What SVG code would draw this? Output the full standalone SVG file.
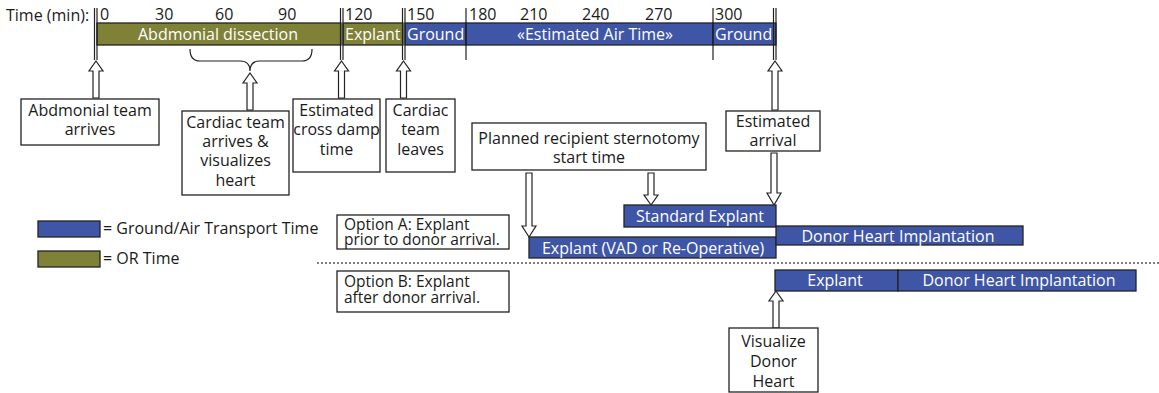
<svg xmlns="http://www.w3.org/2000/svg" width="1159" height="393" viewBox="0 0 1159 393">
<defs>
<style>
text{font-family:"Open Sans","Noto Sans","Liberation Sans",sans-serif;font-size:16px;fill:#1a1a1a}
.w{fill:#fff}
.m{text-anchor:middle}
.s{font-size:15.5px}
.blue{fill:#3F56A6;stroke:#222;stroke-width:1.3}
.olive{fill:#7F8137;stroke:#222;stroke-width:1.3}
.box{fill:#fff;stroke:#222;stroke-width:1.3}
.vl{stroke:#222;stroke-width:1.2;fill:none}
.arr{fill:#fff;stroke:#222;stroke-width:1.2;stroke-linejoin:miter}
.dot{stroke:#555;stroke-width:1.3;stroke-dasharray:2,2;fill:none}
</style>
</defs>
<rect width="1159" height="393" fill="#fff"/>
<g id="timeline">
<text x="6" y="21">Time (min):</text>
<text x="100" y="20">0</text>
<text x="155" y="20">30</text>
<text x="215" y="20">60</text>
<text x="278" y="20">90</text>
<text x="345" y="20">120</text>
<text x="407" y="20">150</text>
<text x="469" y="20">180</text>
<text x="520" y="20">210</text>
<text x="582" y="20">240</text>
<text x="645" y="20">270</text>
<text x="715" y="20">300</text>
<rect class="olive" x="97" y="23" width="244" height="22"/>
<text class="w m" x="218" y="40">Abdmonial dissection</text>
<rect class="olive" x="343" y="23" width="60" height="22"/>
<text class="w" x="345" y="40">Explant</text>
<rect class="blue" x="405" y="23" width="61" height="22"/>
<text class="w" x="407" y="40">Ground</text>
<rect class="blue" x="466" y="23" width="247" height="22"/>
<text class="w m" x="595" y="40">«Estimated Air Time»</text>
<rect class="blue" x="713" y="23" width="63" height="22"/>
<text class="w" x="715" y="40">Ground</text>
<path class="vl" d="M94.5,8V60M97,8V60M340.5,8V60M343,8V60M402.5,8V60M405,8V60M466,8V60M713,8V60M773.5,8V60M776,8V60"/>
</g>
<g id="brace">
<path class="vl" d="M190,49Q190,61 200,61L240,61Q250,61 250,71Q250,61 260,61L302,61Q312,61 312,49"/>
</g>
<g id="legend">
<rect class="blue" x="38" y="221" width="62" height="16"/>
<text x="103" y="234">= Ground/Air Transport Time</text>
<rect class="olive" x="38" y="251" width="62" height="16"/>
<text x="103" y="264">= OR Time</text>
</g>
<g id="connectors">
<path class="arr" d="M96,61L103,71L99,71L99,98L93,98L93,71L89,71Z"/>
<path class="arr" d="M250,73L257,83L253,83L253,110L247,110L247,83L243,83Z"/>
<path class="arr" d="M341.5,61L348.5,71L344.5,71L344.5,98L338.5,98L338.5,71L334.5,71Z"/>
<path class="arr" d="M403.5,61L410.5,71L406.5,71L406.5,98L400.5,98L400.5,71L396.5,71Z"/>
<path class="arr" d="M775,61L782,71L778,71L778,110L772,110L772,71L768,71Z"/>
<path class="arr" d="M529,237L522,226L526,226L526,173L532,173L532,226L536,226Z"/>
<path class="arr" d="M651,205L644,195L648,195L648,173L654,173L654,195L658,195Z"/>
<path class="arr" d="M774,205L767,193L771,193L771,153L777,153L777,193L781,193Z"/>
<path class="arr" d="M776,291L783,301L779,301L779,328L773,328L773,301L769,301Z"/>
<path class="dot" d="M317,263H1159"/>
</g>
<g id="n-abd-team">
<rect class="box" x="21" y="99" width="138" height="46"/>
<text class="m" x="90" y="116">Abdmonial team</text>
<text class="m" x="90" y="135">arrives</text>
</g>
<g id="n-cardiac-arrives">
<rect class="box" x="182" y="111" width="107" height="84"/>
<text class="m" x="235.5" y="128">Cardiac team</text>
<text class="m" x="235.5" y="147">arrives &amp;</text>
<text class="m" x="235.5" y="166">visualizes</text>
<text class="m" x="235.5" y="186">heart</text>
</g>
<g id="n-cross-clamp">
<rect class="box" x="293" y="99" width="87" height="73"/>
<text class="m" x="336.5" y="116">Estimated</text>
<text class="m" x="336.5" y="135">cross damp</text>
<text class="m" x="336.5" y="155">time</text>
</g>
<g id="n-cardiac-leaves">
<rect class="box" x="386" y="99" width="69" height="73"/>
<text class="m" x="420.5" y="116">Cardiac</text>
<text class="m" x="420.5" y="135">team</text>
<text class="m" x="420.5" y="155">leaves</text>
</g>
<g id="n-planned">
<rect class="box" x="472" y="123" width="234" height="47"/>
<text class="m" x="589" y="144">Planned recipient sternotomy</text>
<text class="m" x="589" y="163">start time</text>
</g>
<g id="n-est-arrival">
<rect class="box" x="726" y="111" width="94" height="40"/>
<text class="m" x="773" y="127">Estimated</text>
<text class="m" x="773" y="146">arrival</text>
</g>
<g id="n-option-a">
<rect class="box" x="337" y="215" width="172" height="34"/>
<text class="s" x="344" y="230">Option A: Explant</text>
<text class="s" x="344" y="245">prior to donor arrival.</text>
</g>
<g id="n-option-b">
<rect class="box" x="337" y="271" width="172" height="41"/>
<text class="s" x="344" y="287">Option B: Explant</text>
<text class="s" x="344" y="303">after donor arrival.</text>
</g>
<g id="n-standard-explant">
<rect class="blue" x="624" y="205" width="152" height="22"/>
<text class="w m" x="700" y="222">Standard Explant</text>
</g>
<g id="n-explant-vad">
<rect class="blue" x="529" y="237" width="247" height="21"/>
<text class="w m" x="653" y="254">Explant (VAD or Re-Operative)</text>
</g>
<g id="n-implant-a">
<rect class="blue" x="776" y="226" width="247" height="19"/>
<text class="w m" x="898" y="242">Donor Heart Implantation</text>
</g>
<g id="n-explant-b">
<rect class="blue" x="775" y="270" width="123" height="21"/>
<text class="w m" x="835" y="286">Explant</text>
</g>
<g id="n-implant-b">
<rect class="blue" x="898" y="270" width="238" height="21"/>
<text class="w m" x="1019" y="286">Donor Heart Implantation</text>
</g>
<g id="n-visualize">
<rect class="box" x="729" y="328" width="89" height="64"/>
<text class="m" x="773.5" y="347">Visualize</text>
<text class="m" x="773.5" y="367">Donor</text>
<text class="m" x="773.5" y="387">Heart</text>
</g>
</svg>
